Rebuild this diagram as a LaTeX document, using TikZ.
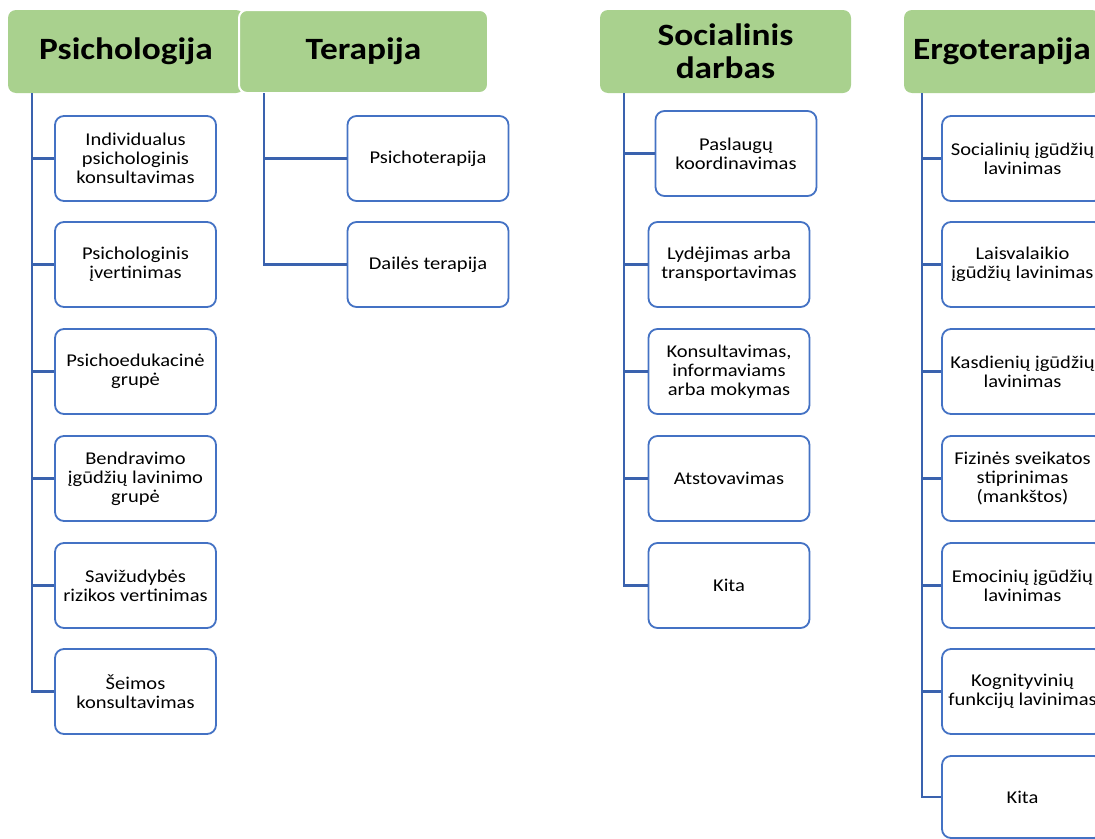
\documentclass[tikz,border=0pt]{standalone}
\usepackage{fontspec}
\setmainfont{Carlito}[FakeStretch=1.14]
\definecolor{hgreen}{HTML}{A9D18E}
\definecolor{boxblue}{HTML}{4472C4}
\definecolor{spine}{HTML}{3A62AE}
\begin{document}
\begin{tikzpicture}[x=1pt,y=-1pt,
  hdr/.style={fill=hgreen, rounded corners=8pt, minimum height=83pt, inner sep=0pt, align=center,
    font=\bfseries\fontsize{31}{33}\selectfont},
  item/.style={draw=boxblue, line width=1.8pt, fill=white, rounded corners=9pt, minimum width=161pt,
    minimum height=85pt, inner sep=0pt, align=center, font=\fontsize{18}{19}\selectfont},
  conn/.style={draw=spine, line width=2.2pt}]
\useasboundingbox (0,0) rectangle (1095,838);
\clip (0,0) rectangle (1095,838);
\fill[white] (0,0) rectangle (1095,838);
% headers
\node[hdr, minimum width=236pt] (psy) at (126,51.5) {Psichologija};
\node[hdr, draw=white, line width=2pt, minimum width=249pt] (ter) at (363.5,51.5) {Terapija};
\node[hdr, minimum width=251pt] (soc) at (725.5,51.5) {Socialinis\\darbas};
\node[hdr, minimum width=196pt] (erg) at (1002,51.5) {Ergoterapija};
% spine tops
\coordinate (psyT) at (32,93);
\coordinate (terT) at (264,93);
\coordinate (socT) at (624,93);
\coordinate (ergT) at (922,93);
% Psichologija
\node[item] (p1) at (135.5,158.5) {Individualus\\psichologinis\\konsultavimas};
\node[item] (p2) at (135.5,264.5) {Psichologinis\\įvertinimas};
\node[item] (p3) at (135.5,371.5) {Psichoedukacinė\\grupė};
\node[item] (p4) at (135.5,478.5) {Bendravimo\\įgūdžių lavinimo\\grupė};
\node[item] (p5) at (135.5,585.5) {Savižudybės\\rizikos vertinimas};
\node[item] (p6) at (135.5,691.5) {Šeimos\\konsultavimas};
% Terapija
\node[item] (t1) at (428,158.5) {Psichoterapija};
\node[item] (t2) at (428,264.5) {Dailės terapija};
% Socialinis darbas
\node[item] (s1) at (736,153.5) {Paslaugų\\koordinavimas};
\node[item] (s2) at (729,264.5) {Lydėjimas arba\\transportavimas};
\node[item] (s3) at (729,371.5) {Konsultavimas,\\informaviams\\arba mokymas};
\node[item] (s4) at (729,478.5) {Atstovavimas};
\node[item] (s5) at (729,585.5) {Kita};
% Ergoterapija
\node[item] (e1) at (1022.5,158.5) {Socialinių įgūdžių\\lavinimas};
\node[item] (e2) at (1022.5,264.5) {Laisvalaikio\\įgūdžių lavinimas};
\node[item] (e3) at (1022.5,371.5) {Kasdienių įgūdžių\\lavinimas};
\node[item] (e4) at (1022.5,478.5) {Fizinės sveikatos\\stiprinimas\\(mankštos)};
\node[item] (e5) at (1022.5,585.5) {Emocinių įgūdžių\\lavinimas};
\node[item] (e6) at (1022.5,691.5) {Kognityvinių\\funkcijų lavinimas};
\node[item, minimum height=82pt] (e7) at (1022.5,797) {Kita};
% connectors
\foreach \n in {p1,p2,p3,p4,p5,p6} \draw[conn] (psyT) |- (\n.west);
\foreach \n in {t1,t2} \draw[conn] (terT) |- (\n.west);
\foreach \n in {s1,s2,s3,s4,s5} \draw[conn] (socT) |- (\n.west);
\foreach \n in {e1,e2,e3,e4,e5,e6,e7} \draw[conn] (ergT) |- (\n.west);
\end{tikzpicture}
\end{document}
